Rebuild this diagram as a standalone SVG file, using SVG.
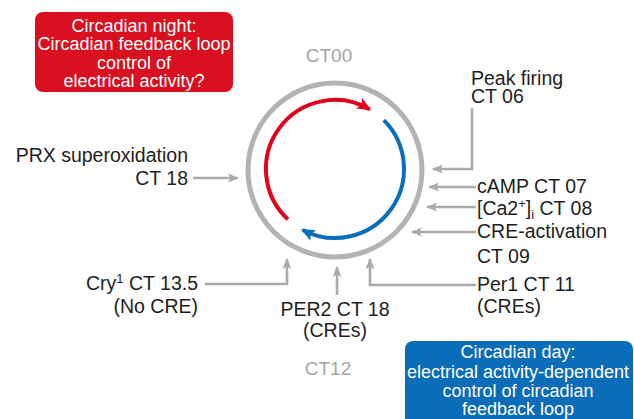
<svg xmlns="http://www.w3.org/2000/svg" width="634" height="419" viewBox="0 0 634 419">
<style>
text{font-family:"Liberation Sans",Arial,sans-serif;}
.lbl{font-size:19.5px;fill:#1e1e1e;}
.ct{font-size:19px;fill:#a6a6a6;}
.box{font-size:18px;fill:#ffffff;text-anchor:middle;}
.con{fill:none;stroke:#aaaaaa;stroke-width:2.6;marker-end:url(#ga);}
.sup{font-size:13px;}
</style>
<defs>
<marker id="ga" markerUnits="userSpaceOnUse" markerWidth="12" markerHeight="12" viewBox="0 0 12 12" refX="10" refY="6" orient="auto">
<path d="M0,1.5 L11,6 L0,10.5 L2.5,6 z" fill="#aaaaaa"/>
</marker>
<marker id="ra" markerUnits="userSpaceOnUse" markerWidth="16" markerHeight="16" viewBox="0 0 16 16" refX="12" refY="8" orient="auto">
<path d="M0,2 L14,8 L0,14 L3,8 z" fill="#e2001a"/>
</marker>
<marker id="ba" markerUnits="userSpaceOnUse" markerWidth="16" markerHeight="16" viewBox="0 0 16 16" refX="12" refY="8" orient="auto">
<path d="M0,2 L14,8 L0,14 L3,8 z" fill="#0a6ebd"/>
</marker>
</defs>

<g id="night-box">
<rect x="35" y="12" width="198" height="80" rx="8" fill="#d9101f"/>
<text class="box" x="134" y="32">Circadian night:</text>
<text class="box" x="134" y="50">Circadian feedback loop</text>
<text class="box" x="134" y="69">control of</text>
<text class="box" x="134" y="87">electrical activity?</text>
</g>

<g id="day-box">
<rect x="405" y="341" width="228" height="90" rx="8" fill="#0b6cb8"/>
<text class="box" x="518" y="358">Circadian day:</text>
<text class="box" x="518" y="378">electrical activity-dependent</text>
<text class="box" x="518" y="397">control of circadian</text>
<text class="box" x="518" y="415">feedback loop</text>
</g>

<g id="clock">
<circle cx="335" cy="170" r="87" fill="none" stroke="#b3b3b3" stroke-width="5"/>
<path d="M287.9,219.4 A69,69 0 0 1 369.5,109.2" fill="none" stroke="#e2001a" stroke-width="4" marker-end="url(#ra)"/>
<path d="M383.8,120.2 A69,69 0 0 1 302.6,229.9" fill="none" stroke="#0a6ebd" stroke-width="4" marker-end="url(#ba)"/>
</g>

<g id="ct00"><text class="ct" x="329" y="62" text-anchor="middle">CT00</text></g>
<g id="ct12"><text class="ct" x="328" y="375" text-anchor="middle">CT12</text></g>

<g id="peak-firing">
<text class="lbl" x="471" y="85">Peak firing</text>
<text class="lbl" x="471" y="103">CT 06</text>
</g>
<g id="camp"><text class="lbl" x="477" y="193">cAMP CT 07</text></g>
<g id="ca"><text class="lbl" x="477" y="215">[Ca2<tspan class="sup" dy="-7">+</tspan><tspan dy="7">]</tspan><tspan class="sup" dy="4">i</tspan><tspan dy="-4"> CT 08</tspan></text></g>
<g id="cre-activation">
<text class="lbl" x="477" y="238">CRE-activation</text>
<text class="lbl" x="477" y="263">CT 09</text>
</g>
<g id="per1">
<text class="lbl" x="477" y="291">Per1 CT 11</text>
<text class="lbl" x="477" y="313">(CREs)</text>
</g>
<g id="prx">
<text class="lbl" x="188" y="162" text-anchor="end">PRX superoxidation</text>
<text class="lbl" x="188" y="185" text-anchor="end">CT 18</text>
</g>
<g id="cry1">
<text class="lbl" x="198" y="290" text-anchor="end">Cry<tspan class="sup" dy="-7">1</tspan><tspan dy="7"> CT 13.5</tspan></text>
<text class="lbl" x="198" y="313" text-anchor="end">(No CRE)</text>
</g>
<g id="per2">
<text class="lbl" x="335" y="316" text-anchor="middle">PER2 CT 18</text>
<text class="lbl" x="335" y="337" text-anchor="middle">(CREs)</text>
</g>

<g id="connectors">
<path class="con" d="M472,108 V169 H433"/>
<path class="con" d="M476,187 H429"/>
<path class="con" d="M476,207 H427"/>
<path class="con" d="M476,232 H412"/>
<path class="con" d="M476,285 H370 V259"/>
<path class="con" d="M193,178 H238"/>
<path class="con" d="M205,284 H287 V259"/>
<path class="con" d="M337,295 V267"/>
</g>
</svg>
